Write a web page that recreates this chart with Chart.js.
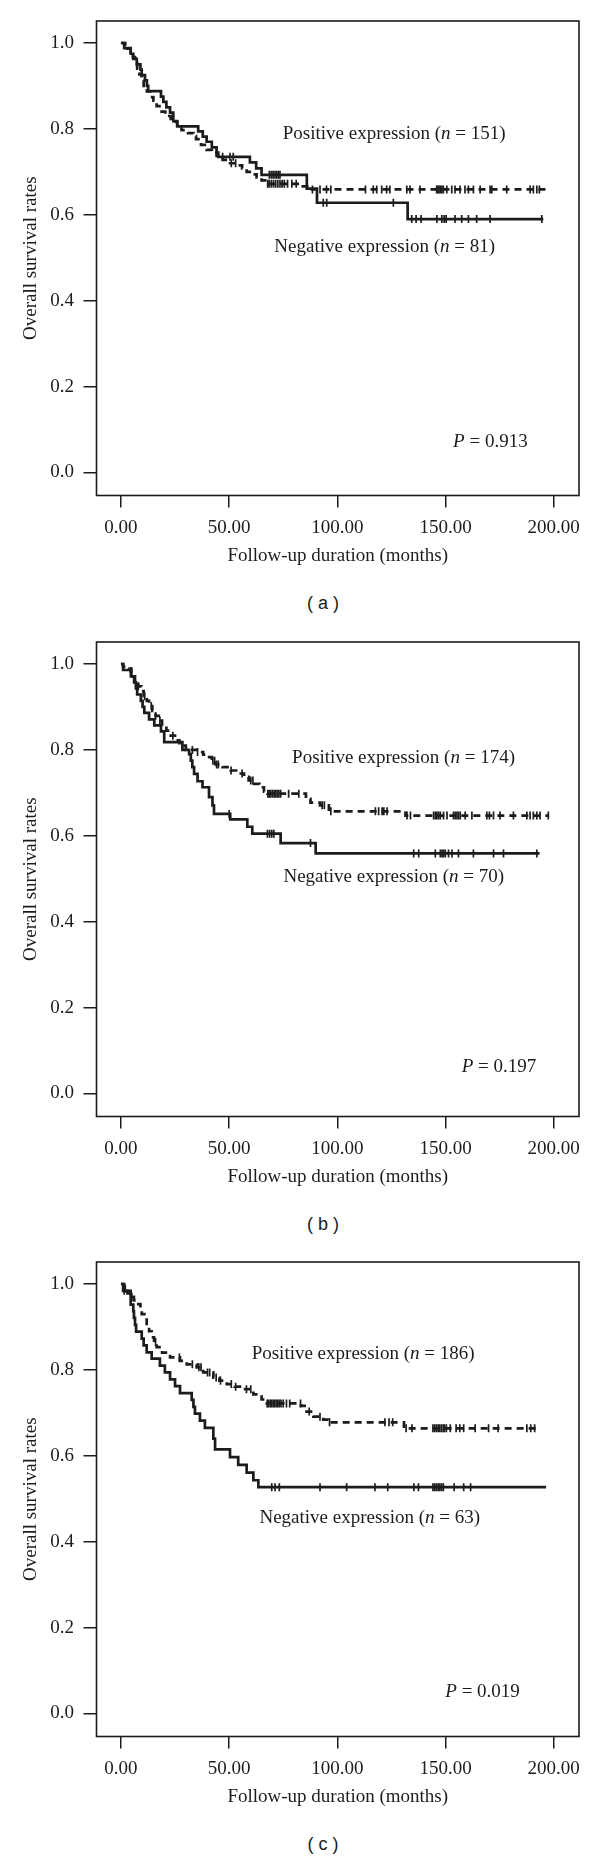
<!DOCTYPE html>
<html><head><meta charset="utf-8">
<script src="https://cdn.jsdelivr.net/npm/chart.js@4/dist/chart.umd.min.js"></script>
<style>
html,body{margin:0;padding:0;background:#fff}
body{width:600px;height:1865px;position:relative;overflow:hidden}
.panel{position:absolute;left:0;width:600px;height:580px}
.lab{position:absolute;left:273px;width:100px;text-align:center;font-family:"Liberation Sans",Arial,sans-serif;font-size:18px;line-height:21px;color:#1a1a1a;white-space:pre}
</style></head><body>
<div class="panel" style="top:0px"><canvas id="ca" width="600" height="580"></canvas></div>
<div class="lab" style="top:593px">( a )</div>
<div class="panel" style="top:621px"><canvas id="cb" width="600" height="580"></canvas></div>
<div class="lab" style="top:1214px">( b )</div>
<div class="panel" style="top:1241px"><canvas id="cc" width="600" height="580"></canvas></div>
<div class="lab" style="top:1834px">( c )</div>
<script>
// ---------- axis ticks ----------
const xTickValues = [0, 50, 100, 150, 200];
const xTickLabels = ['0.00', '50.00', '100.00', '150.00', '200.00'];
const yTickValues = [0, 0.2, 0.4, 0.6, 0.8, 1.0];
const yTickLabels = ['0.0', '0.2', '0.4', '0.6', '0.8', '1.0'];
const xTitle = 'Follow-up duration (months)';
const yTitle = 'Overall survival rates';

// ---------- panel (a) ----------
const aNegTime = [0, 1.5, 4.5, 5.7, 7.3, 9.0, 9.6, 11.1, 12.0, 12.6, 18.5, 19.6, 21.0, 22.7, 24.2, 26.0, 35.7, 37.8, 39.6, 42.0, 44.2, 45.0, 59.6, 62.5, 65.0, 85.9, 90.6, 132.5, 195.2];
const aNegSurv = [1.0, 0.988, 0.975, 0.963, 0.950, 0.938, 0.925, 0.913, 0.900, 0.888, 0.875, 0.863, 0.850, 0.838, 0.818, 0.806, 0.794, 0.782, 0.770, 0.757, 0.745, 0.735, 0.722, 0.708, 0.693, 0.661, 0.628, 0.590, 0.590];
const aNegCensor = [47, 50.4, 51.9, 68.6, 69.5, 70.3, 71.2, 72, 72.8, 73.5, 93.5, 95.1, 125.9, 134.4, 136.4, 138.7, 146, 148.3, 149.4, 150.3, 154.4, 157.5, 160.6, 164.4, 170.6, 194.5];
const aPosTime = [0, 2, 3, 4.5, 5.5, 6.5, 7.5, 8.5, 9.5, 10.5, 12, 13.5, 15, 16.5, 18.8, 20.5, 23, 26, 28, 31, 33.5, 34.7, 37, 39.6, 42, 44.2, 47, 49.6, 53.5, 56, 58.1, 61, 62.7, 65, 67.4, 83, 87.4, 196.5];
const aPosSurv = [1.0, 0.993, 0.987, 0.980, 0.967, 0.953, 0.940, 0.927, 0.913, 0.900, 0.887, 0.874, 0.866, 0.853, 0.840, 0.830, 0.817, 0.804, 0.797, 0.790, 0.783, 0.776, 0.763, 0.751, 0.744, 0.737, 0.728, 0.720, 0.715, 0.708, 0.700, 0.694, 0.687, 0.680, 0.672, 0.666, 0.659, 0.659];
const aPosCensor = [51, 53, 67.8, 68.5, 69.5, 70.5, 71.5, 72.5, 73.5, 74.5, 75.5, 77, 79, 81, 88.5, 92, 95, 97, 113, 116.6, 118.2, 120.5, 122.8, 124.3, 132.1, 133.6, 138.2, 145.9, 146.5, 147, 147.6, 148.3, 149, 150.6, 152.9, 154.4, 156.7, 159, 160.6, 162.9, 166, 170.6, 171.4, 178.3, 189.1, 190.6, 192.2, 193.4];

// ---------- panel (b) ----------
const bNegTime = [0, 1, 4.6, 6.1, 6.9, 7.5, 9.2, 10, 10.8, 13, 15.4, 18.5, 20, 28.4, 31.5, 32.3, 33, 33.8, 35.4, 37.7, 40.7, 42.3, 43, 50.5, 58.4, 60.7, 73.8, 90, 193.5];
const bNegSurv = [1.0, 0.986, 0.971, 0.957, 0.943, 0.929, 0.914, 0.900, 0.886, 0.871, 0.857, 0.843, 0.818, 0.800, 0.790, 0.775, 0.760, 0.744, 0.727, 0.713, 0.690, 0.671, 0.651, 0.638, 0.621, 0.605, 0.583, 0.559, 0.559];
const bNegCensor = [50, 67.7, 68.7, 69.7, 70.7, 87.6, 135.3, 137.6, 145.3, 147.6, 148.4, 149.1, 149.9, 151.4, 153, 156, 162.9, 172.2, 176.8, 192.2];
const bPosTime = [0, 1, 3, 4.5, 5.5, 6.5, 8, 9.5, 10.5, 12, 13, 14.5, 16, 17.5, 19, 21, 23, 25, 27, 30, 35, 38, 40, 42, 43.8, 47, 50.7, 54, 56.9, 59, 61.5, 64, 66.1, 67.7, 85.5, 87.6, 92, 96.1, 131.5, 197.9];
const bPosSurv = [1.0, 0.994, 0.989, 0.983, 0.971, 0.960, 0.948, 0.937, 0.925, 0.914, 0.902, 0.891, 0.879, 0.868, 0.856, 0.845, 0.833, 0.822, 0.810, 0.800, 0.795, 0.789, 0.783, 0.775, 0.766, 0.760, 0.752, 0.745, 0.737, 0.729, 0.721, 0.713, 0.703, 0.698, 0.686, 0.677, 0.671, 0.657, 0.647, 0.647];
const bPosCensor = [5, 8, 11, 14, 16, 18, 24, 33, 35.4, 42.5, 43.3, 44.2, 45, 50.9, 56, 60, 61, 67.9, 68.5, 69.2, 70, 70.8, 71.5, 72.2, 73, 73.8, 77.5, 82.2, 93, 94, 97, 117.6, 119.1, 120.7, 121.5, 123, 132.2, 133.8, 144.5, 145.3, 146, 146.8, 147.6, 149.1, 150.7, 153.7, 154.5, 155.3, 156, 156.8, 159.1, 162.2, 169.1, 170.3, 172.2, 175.2, 181.4, 187.6, 189.1, 190.6, 192.2, 193.7, 197.5];

// ---------- panel (c) ----------
const cNegTime = [0, 1, 4.5, 5.7, 6.0, 6.5, 7.0, 9.6, 10.5, 11.9, 14.2, 18, 20.3, 22.7, 25, 27.3, 32.7, 33.5, 34.2, 36.5, 38.8, 42.7, 43.5, 50.4, 54.2, 58.1, 61.2, 63.5, 196.5];
const cNegSurv = [1.0, 0.984, 0.952, 0.937, 0.921, 0.905, 0.889, 0.873, 0.857, 0.841, 0.826, 0.810, 0.794, 0.778, 0.762, 0.746, 0.730, 0.714, 0.698, 0.682, 0.665, 0.640, 0.615, 0.597, 0.579, 0.561, 0.543, 0.527, 0.527];
const cNegCensor = [1.5, 69.7, 71.2, 73.2, 92, 104.3, 117.4, 123.3, 135.4, 137.5, 144.2, 145, 145.8, 146.6, 147.4, 148.2, 149, 154, 158.4, 161.6];
const cPosTime = [0, 1.5, 3, 4.5, 6, 8, 9, 9.6, 10.8, 11.9, 13, 14.2, 15.3, 16.5, 19, 22.7, 27.3, 30.4, 35, 38, 42.7, 45.5, 48.9, 52.5, 56.5, 61.2, 65, 67.4, 83.2, 85.8, 88.9, 93.5, 95.8, 130.8, 192.8];
const cPosSurv = [1.0, 0.989, 0.978, 0.970, 0.962, 0.953, 0.942, 0.930, 0.917, 0.903, 0.890, 0.876, 0.865, 0.853, 0.840, 0.829, 0.821, 0.813, 0.806, 0.794, 0.782, 0.775, 0.767, 0.761, 0.755, 0.743, 0.731, 0.722, 0.716, 0.703, 0.691, 0.684, 0.678, 0.664, 0.664];
const cPosCensor = [2, 5, 16, 27, 33, 36, 37, 40, 41, 44, 46, 51, 53, 58, 60, 67.6, 68.2, 69, 69.7, 70.4, 71.1, 71.8, 72.5, 73.2, 74, 75, 76.5, 78, 83, 87, 92, 96.4, 122, 123.9, 125.6, 131.8, 134.5, 144.2, 145, 145.8, 146.6, 147.4, 148.2, 149, 149.5, 150.4, 152.2, 154.9, 156.6, 158.4, 163.7, 169.9, 174.3, 187.6, 189.4, 191.2];

// ---------- labels ----------
const annotations = {
  a: [
    {x: 74.8, y: 0.788, parts: [['Positive expression (', 0], ['n', 1], [' = 151)', 0]]},
    {x: 70.9, y: 0.524, parts: [['Negative expression (', 0], ['n', 1], [' = 81)', 0]]},
    {x: 153.5, y: 0.070, parts: [['P', 1], [' = 0.913', 0]]}
  ],
  b: [
    {x: 79.1, y: 0.780, parts: [['Positive expression (', 0], ['n', 1], [' = 174)', 0]]},
    {x: 75.1, y: 0.505, parts: [['Negative expression (', 0], ['n', 1], [' = 70)', 0]]},
    {x: 157.5, y: 0.061, parts: [['P', 1], [' = 0.197', 0]]}
  ],
  c: [
    {x: 60.4, y: 0.838, parts: [['Positive expression (', 0], ['n', 1], [' = 186)', 0]]},
    {x: 64.0, y: 0.455, parts: [['Negative expression (', 0], ['n', 1], [' = 63)', 0]]},
    {x: 149.9, y: 0.051, parts: [['P', 1], [' = 0.019', 0]]}
  ]
};

const INK = '#1c1c1c';
const SERIF = '"Liberation Serif", "Times New Roman", serif';

function survAt(T, S, t) {
  let s = S[0];
  for (let i = 0; i < T.length; i++) { if (T[i] <= t) s = S[i]; else break; }
  return s;
}
function curve(T, S) { return T.map((t, i) => ({x: t, y: S[i]})); }
function marks(T, S, C) { return C.map(t => ({x: t, y: survAt(T, S, t)})); }

const framePlugin = {
  id: 'frame',
  beforeDatasetsDraw(chart) {
    const {ctx, chartArea: a} = chart;
    ctx.save();
    ctx.strokeStyle = INK; ctx.lineWidth = 1.6;
    ctx.strokeRect(a.left, a.top, a.right - a.left, a.bottom - a.top);
    ctx.restore();
  }
};
const textPlugin = {
  id: 'annot',
  afterDraw(chart, args, opts) {
    const ctx = chart.ctx, xs = chart.scales.x, ys = chart.scales.y;
    ctx.save();
    ctx.fillStyle = INK; ctx.textBaseline = 'middle'; ctx.textAlign = 'left';
    for (const item of opts.items) {
      let x = xs.getPixelForValue(item.x);
      const y = ys.getPixelForValue(item.y);
      for (const [txt, it] of item.parts) {
        ctx.font = (it ? 'italic ' : '') + '19px ' + SERIF;
        ctx.fillText(txt, x, y);
        x += ctx.measureText(txt).width;
      }
    }
    ctx.restore();
  }
};

function makePanel(id, negT, negS, negC, posT, posS, posC, items) {
  new Chart(document.getElementById(id), {
    type: 'line',
    data: {
      datasets: [
        {label: 'Positive', data: curve(posT, posS), stepped: 'before', borderColor: INK, borderWidth: 2.7, borderDash: [7, 5], pointRadius: 0, fill: false},
        {label: 'Negative', data: curve(negT, negS), stepped: 'before', borderColor: INK, borderWidth: 2.7, pointRadius: 0, fill: false},
        {label: 'Positive censored', data: marks(posT, posS, posC), showLine: false, pointStyle: 'line', rotation: 90, pointRadius: 4, borderColor: INK, pointBorderWidth: 1.7, pointHoverRadius: 0},
        {label: 'Negative censored', data: marks(negT, negS, negC), showLine: false, pointStyle: 'line', rotation: 90, pointRadius: 4, borderColor: INK, pointBorderWidth: 1.7, pointHoverRadius: 0}
      ]
    },
    options: {
      responsive: false, animation: false, devicePixelRatio: 1,
      layout: {padding: {top: 21, right: 21, bottom: 0, left: 0}},
      plugins: {legend: {display: false}, tooltip: {enabled: false}, annot: {items: items}},
      scales: {
        x: {
          type: 'linear', min: -11.3, max: 211.7,
          afterBuildTicks: s => { s.ticks = xTickValues.map(v => ({value: v})); },
          afterFit: s => { s.height = 84.5; },
          ticks: {callback: (v, i) => xTickLabels[i], font: {family: SERIF, size: 19}, color: INK, padding: 9, maxRotation: 0, autoSkip: false},
          grid: {drawOnChartArea: false, drawTicks: true, tickLength: 12, color: INK, lineWidth: 1.5},
          border: {display: false},
          title: {display: true, text: xTitle, font: {family: SERIF, size: 19}, color: INK, padding: {top: 0, bottom: 12.6}}
        },
        y: {
          type: 'linear', min: -0.0536, max: 1.0512,
          afterBuildTicks: s => { s.ticks = yTickValues.map(v => ({value: v})); },
          afterFit: s => { s.width = 96.5; },
          ticks: {callback: (v, i) => yTickLabels[i], font: {family: SERIF, size: 19}, color: INK, padding: 9.5, autoSkip: false},
          grid: {drawOnChartArea: false, drawTicks: true, tickLength: 13, color: INK, lineWidth: 1.5},
          border: {display: false},
          title: {display: true, text: yTitle, font: {family: SERIF, size: 19}, color: INK, padding: {top: 19.2, bottom: 0}}
        }
      }
    },
    plugins: [framePlugin, textPlugin]
  });
}

makePanel('ca', aNegTime, aNegSurv, aNegCensor, aPosTime, aPosSurv, aPosCensor, annotations.a);
makePanel('cb', bNegTime, bNegSurv, bNegCensor, bPosTime, bPosSurv, bPosCensor, annotations.b);
makePanel('cc', cNegTime, cNegSurv, cNegCensor, cPosTime, cPosSurv, cPosCensor, annotations.c);
</script>
</body></html>
